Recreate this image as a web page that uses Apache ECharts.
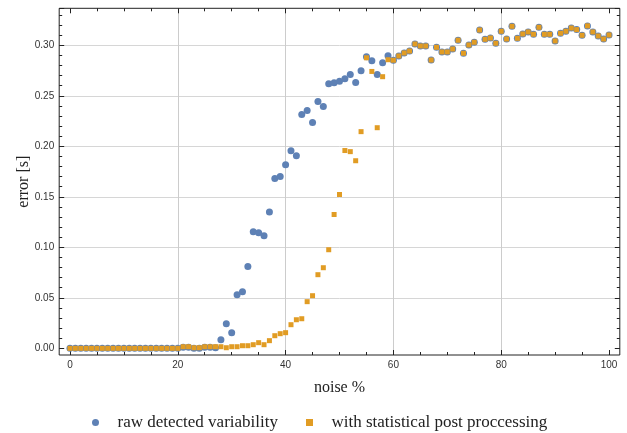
<!DOCTYPE html>
<html><head><meta charset="utf-8">
<script src="https://cdn.jsdelivr.net/npm/echarts@6/dist/echarts.min.js"></script>
<style>html,body{margin:0;padding:0;background:#fff}#c{width:627px;height:433px}</style>
</head><body><div id="c"></div>
<script>
const noise = [0,1,2,3,4,5,6,7,8,9,10,11,12,13,14,15,16,17,18,19,20,21,22,23,24,25,26,27,28,29,30,31,32,33,34,35,36,37,38,39,40,41,42,43,44,45,46,47,48,49,50,51,52,53,54,55,56,57,58,59,60,61,62,63,64,65,66,67,68,69,70,71,72,73,74,75,76,77,78,79,80,81,82,83,84,85,86,87,88,89,90,91,92,93,94,95,96,97,98,99,100];
const rawDetected = [0,0,0,0,0,0,0,0,0,0, 0,0,0,0,0,0,0,0,0,0, 0,0.001,0.001,0,0,0.001,0.001,0.0005,0.0085,0.0244,
  0.0155,0.053,0.056,0.081,0.1155,0.1145,0.1115,0.135,0.168,0.170,
  0.1818,0.1957,0.1907,0.2315,0.2355,0.2236,0.2443,0.2393,0.262,0.263,
  0.2644,0.2668,0.2711,0.2632,0.2749,0.2887,0.2848,0.2711,0.2828,0.2897,
  0.2852,0.2894,0.2924,0.2943,0.3013,0.2993,0.2993,0.2854,0.2980,0.2934,
  0.2934,0.2963,0.3050,0.2921,0.3003,0.3030,0.3151,0.3059,0.3072,0.3020,
  0.3139,0.3062,0.3188,0.3069,0.3112,0.3132,0.3109,0.3178,0.3109,0.3109,
  0.3043,0.3119,0.3139,0.3171,0.3155,0.3099,0.3192,0.3132,0.3092,0.3062,0.3102];
const postProcessed = [0,0,0,0,0,0,0,0,0,0, 0,0,0,0,0,0,0,0,0,0, 0,0.0016,0.0016,0.0006,0.0006,0.0016,0.0016,0.0016,0.0016,0.0006,
  0.0016,0.0016,0.0026,0.0026,0.0036,0.0056,0.0036,0.0076,0.0125,0.0145,
  0.0155,0.0234,0.0283,0.0293,0.0462,0.0521,0.0729,0.0798,0.0976,0.1325,
  0.1523,0.1958,0.1947,0.1857,0.2145,0.2876,0.2741,0.2184,0.2689,0.2857,
  0.2852,0.2894,0.2924,0.2943,0.3013,0.2993,0.2993,0.2854,0.2980,0.2934,
  0.2934,0.2963,0.3050,0.2921,0.3003,0.3030,0.3151,0.3059,0.3072,0.3020,
  0.3139,0.3062,0.3188,0.3069,0.3112,0.3132,0.3109,0.3178,0.3109,0.3109,
  0.3043,0.3119,0.3139,0.3171,0.3155,0.3099,0.3192,0.3132,0.3092,0.3062,0.3102];
const xTicks = [0,20,40,60,80,100];
const yTicks = [0,0.05,0.10,0.15,0.20,0.25,0.30];
const seriesNames = ['raw detected variability','with statistical post proccessing'];

const X0 = -2, X1 = 102, Y0 = -0.0066, Y1 = 0.3366;
const L = 59.2, Rx = 619.8, T = 8.3, Bx = 355;
const W = 627, H = 433;
const pxX = (Rx - L) / (X1 - X0);
const pxY = (Bx - T) / (Y1 - Y0);
const xMin = xTicks[0], xMax = xTicks[xTicks.length-1], xInt = xTicks[1]-xTicks[0];
const yInt = +(yTicks[1]-yTicks[0]).toFixed(4);
const dark = '#222';
const tickFont = {fontFamily:'Liberation Sans', fontSize:10, color:'#333'};
const serif = {fontFamily:'Liberation Serif', fontSize:16, color:'#222'};

const chart = echarts.init(document.getElementById('c'), null, {renderer:'canvas'});
chart.setOption({
  animation:false,
  backgroundColor:'#fff',
  grid:[
    {left:L, right:W-Rx, top:T, bottom:H-Bx, show:true, borderColor:dark, borderWidth:1, backgroundColor:'transparent', z:1},
    {left:L+(xMin-X0)*pxX, right:(W-Rx)+(X1-xMax)*pxX, top:T, bottom:H-Bx},
    {left:L, right:W-Rx, top:T, bottom:(H-Bx)+(0-Y0)*pxY}
  ],
  xAxis:[
    {gridIndex:0, type:'value', min:X0, max:X1, show:false},
    {gridIndex:1, type:'value', min:xMin, max:xMax, interval:xInt, position:'bottom',
      axisLine:{show:false},
      axisTick:{show:true, inside:true, length:5, lineStyle:{color:dark}},
      minorTick:{show:true, splitNumber:4, length:3, lineStyle:{color:dark}},
      axisLabel:Object.assign({margin:5}, tickFont),
      splitLine:{show:true, showMinLine:false, showMaxLine:false, lineStyle:{color:'#cccccc', width:1}},
      name:'noise %', nameLocation:'middle', nameGap:25, nameTextStyle:serif},
    {gridIndex:1, type:'value', min:xMin, max:xMax, interval:xInt, position:'top',
      axisLine:{show:false},
      axisTick:{show:true, inside:true, length:5, lineStyle:{color:dark}},
      minorTick:{show:true, splitNumber:4, length:3, lineStyle:{color:dark}},
      axisLabel:{show:false}, splitLine:{show:false}},
    {gridIndex:2, type:'value', min:0, max:1, show:false}
  ],
  yAxis:[
    {gridIndex:0, type:'value', min:Y0, max:Y1, axisLine:{show:false}, axisTick:{show:false},
      axisLabel:{show:false}, splitLine:{show:false},
      name:'error [s]', nameLocation:'middle', nameGap:27, nameRotate:90, nameTextStyle:serif},
    {gridIndex:1, type:'value', min:0, max:1, show:false},
    {gridIndex:2, type:'value', min:yTicks[0], max:Y1, interval:yInt, position:'left',
      axisLine:{show:false},
      axisTick:{show:true, inside:true, length:5, lineStyle:{color:dark}},
      minorTick:{show:true, splitNumber:5, length:3, lineStyle:{color:dark}},
      axisLabel:Object.assign({margin:5, showMaxLabel:false, formatter:v=>v.toFixed(2)}, tickFont),
      splitLine:{show:true, showMinLine:false, showMaxLine:false, lineStyle:{color:'#d6d6d6', width:1}}},
    {gridIndex:2, type:'value', min:yTicks[0], max:Y1, interval:yInt, position:'right',
      axisLine:{show:false},
      axisTick:{show:true, inside:true, length:5, lineStyle:{color:dark}},
      minorTick:{show:true, splitNumber:5, length:3, lineStyle:{color:dark}},
      axisLabel:{show:false}, splitLine:{show:false}}
  ],
  legend:{
    top:409, left:87, itemWidth:34, itemHeight:7, itemGap:28,
    textStyle:Object.assign({}, serif, {fontSize:17}),
    data:[
      {name:seriesNames[0], icon:'circle', itemStyle:{opacity:1}},
      {name:seriesNames[1], icon:'path://M0,0h10v10h-10z', itemStyle:{opacity:1}}
    ]
  },
  series:[
    {type:'scatter', name:seriesNames[0], xAxisIndex:0, yAxisIndex:0, symbol:'circle', symbolSize:7,
      itemStyle:{color:'#5E81B5', opacity:1}, z:3,
      data:noise.map((x,i)=>[x, rawDetected[i]])},
    {type:'scatter', name:seriesNames[1], xAxisIndex:0, yAxisIndex:0, symbol:'rect', symbolSize:5,
      itemStyle:{color:'#E19C24', opacity:1}, z:4,
      data:noise.map((x,i)=>[x, postProcessed[i]])}
  ]
});
</script></body></html>
